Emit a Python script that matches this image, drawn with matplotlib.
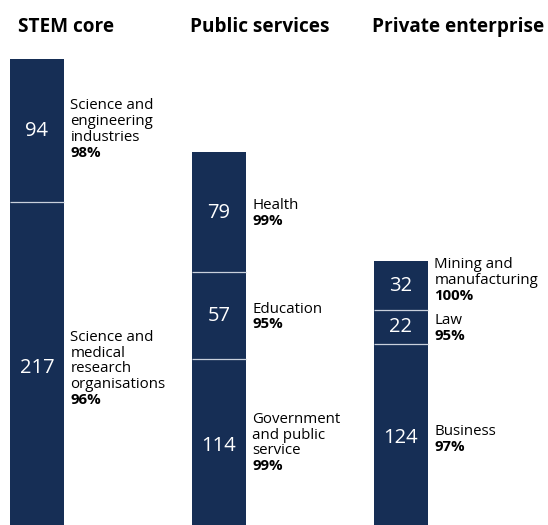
import numpy as np
import matplotlib.pyplot as plt

plt.rcParams['font.family'] = ['Open Sans', 'DejaVu Sans']

# Groups (columns) and their segments, listed from bottom to top
groups = ["STEM core", "Public services", "Private enterprise"]
segment_names = [
    [["Science and", "medical", "research", "organisations"], ["Science and", "engineering", "industries"]],
    [["Government", "and public", "service"], ["Education"], ["Health"]],
    [["Business"], ["Law"], ["Mining and", "manufacturing"]],
]
segment_values = [
    [217, 94],
    [114, 57, 79],
    [124, 22, 32],
]
segment_pcts = [
    ["96%", "98%"],
    ["99%", "95%", "99%"],
    ["97%", "95%", "100%"],
]

bar_color = '#162e55'
W, H = 548, 525

fig = plt.figure(figsize=(W / 100, H / 100), dpi=100)
ax = fig.add_axes([0, 0, 1, 1])
ax.set_xlim(-0.2033, 2.808)
ax.set_ylim(4.6, 350)
ax.axis('off')

width = 0.297
label_dx = width / 2 + 0.035
pitch = 15.7            # label line pitch, px
cap = 10.5              # cap height, px
title_dx = [8, -2, -2]  # title offset from bar left edge, px
nudge = {(2, 2): 7, (0, 1): 3, (1, 0): 4}  # label nudges upwards, px

for i, (names, vals, pcts) in enumerate(zip(segment_names, segment_values, segment_pcts)):
    bottom = 0
    for j, (lines, v, p) in enumerate(zip(names, vals, pcts)):
        ax.bar(i, v, width=width, bottom=bottom, color=bar_color, linewidth=0)
        mid = bottom + v / 2
        ax.annotate(str(v), (i, mid), xytext=(0, -0.5), textcoords='offset points',
                    color='white', ha='center', va='center', fontsize=14.5)
        allines = lines + [p]
        n = len(lines)
        top = (n * pitch + cap) / 2 - cap + nudge.get((i, j), 0)
        for k, s in enumerate(allines):
            ax.annotate(s, (i + label_dx, mid), xytext=(0, (top - k * pitch) * 0.72),
                        textcoords='offset points', ha='left', va='baseline',
                        fontsize=10.8, color='black',
                        fontweight='bold' if k == n else 'normal')
        bottom += v
        if j < len(vals) - 1:
            ax.hlines(bottom, i - width / 2, i + width / 2, color='#c9d0dc', linewidth=0.9)
    ax.annotate(groups[i], (i - width / 2, 329), xytext=(title_dx[i] * 0.72, 0),
                textcoords='offset points', ha='left', va='baseline',
                fontsize=13.7, fontweight='bold', color='black')

fig.savefig('out.png', dpi=100)
